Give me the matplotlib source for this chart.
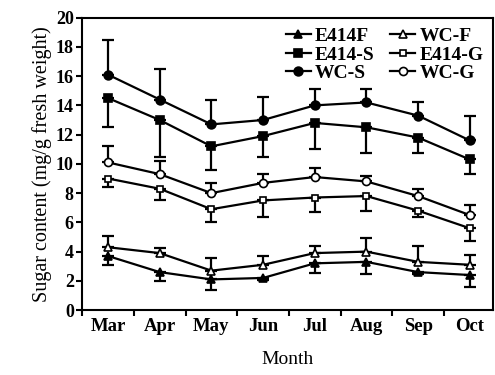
import matplotlib
matplotlib.use("Agg")
import matplotlib.pyplot as plt
import numpy as np

months = ["Mar", "Apr", "May", "Jun", "Jul", "Aug", "Sep", "Oct"]

e414f = [3.7, 2.6, 2.1, 2.2, 3.2, 3.3, 2.6, 2.4]
e414f_err = [0.6, 0.6, 0.7, 0.15, 0.65, 0.8, 0.15, 0.85]
wcf = [4.3, 3.9, 2.7, 3.1, 3.9, 4.0, 3.3, 3.1]
wcf_err = [0.75, 0.35, 0.85, 0.6, 0.5, 0.9, 1.1, 0.7]
e414s = [14.5, 13.0, 11.2, 11.9, 12.8, 12.5, 11.8, 10.3]
e414s_err = [2.0, 2.5, 1.6, 1.4, 1.8, 1.75, 1.05, 1.0]
e414g = [9.0, 8.3, 6.9, 7.5, 7.7, 7.8, 6.8, 5.6]
e414g_err = [0.6, 0.8, 0.9, 1.1, 1.0, 1.0, 0.45, 0.9]
wcs = [16.1, 14.4, 12.7, 13.0, 14.0, 14.2, 13.3, 11.6]
wcs_err = [2.4, 2.1, 1.7, 1.6, 1.1, 0.95, 0.95, 1.7]
wcg = [10.1, 9.3, 8.0, 8.7, 9.1, 8.8, 7.8, 6.5]
wcg_err = [1.1, 0.9, 0.7, 0.6, 0.65, 0.4, 0.45, 0.7]

serif = ["Liberation Serif", "DejaVu Serif"]
plt.rcParams["font.family"] = serif

fig = plt.figure(figsize=(4.95, 3.75), dpi=100)
ax = fig.add_axes([0.166, 0.173, 0.83, 0.78])

x = np.arange(len(months))

series = [
    ("E414F", e414f, e414f_err, "^", "k", "down"),
    ("E414-S", e414s, e414s_err, "s", "k", "down"),
    ("WC-S", wcs, wcs_err, "o", "k", "up"),
    ("WC-F", wcf, wcf_err, "^", "w", "up"),
    ("E414-G", e414g, e414g_err, "s", "w", "down"),
    ("WC-G", wcg, wcg_err, "o", "w", "up"),
]

handles = []
for name, vals, err, mk, fc, side in series:
    vals = np.array(vals)
    err = np.array(err)
    zeros = np.zeros_like(err)
    yerr = [zeros, err] if side == "up" else [err, zeros]
    ax.errorbar(x, vals, yerr=yerr, fmt="none", ecolor="k", elinewidth=1.6,
                capsize=4, capthick=1.6, zorder=2)
    if mk == "o":
        ms = 6.3 if fc == "k" else 5.8
    elif mk == "s":
        ms = 5.3 if fc == "k" else 5.0
    else:
        ms = 6.3 if fc == "k" else 5.8
    h, = ax.plot(x, vals, color="k", lw=1.6, marker=mk, markersize=ms,
                 markerfacecolor=fc, markeredgecolor="k", markeredgewidth=1.2,
                 label=name, zorder=3)
    handles.append(h)

ax.set_xlim(-0.5, 7.45)
ax.set_ylim(0, 20)
ax.set_yticks(np.arange(0, 21, 2))
ax.set_xticks(np.arange(-0.5, 7.0, 1.0))
ax.set_xticklabels([])
ax.set_xticks(x, minor=True)
ax.set_xticklabels(months, minor=True, fontsize=13.5, fontweight="bold")
ax.tick_params(axis="x", which="minor", length=0, pad=6)
ax.tick_params(axis="x", which="major", length=4, width=1.5, direction="out")
ax.tick_params(axis="y", length=4, width=1.5, direction="out", labelsize=13, pad=2)
for lab in ax.get_yticklabels():
    lab.set_fontweight("bold")
for s in ax.spines.values():
    s.set_linewidth(1.5)

ax.set_xlabel("Month", fontsize=14, labelpad=11)
ax.set_ylabel("Sugar content (mg/g fresh weight)", fontsize=14.5, labelpad=3)

leg = ax.legend(handles=handles, ncol=2, loc="upper right", frameon=False,
                fontsize=14, handlelength=1.3, handletextpad=0.2,
                columnspacing=0.8, labelspacing=0.05, borderaxespad=0.1,
                bbox_to_anchor=(1.0, 1.0))
for t in leg.get_texts():
    t.set_fontweight("bold")

fig.savefig("out.png", dpi=100)
